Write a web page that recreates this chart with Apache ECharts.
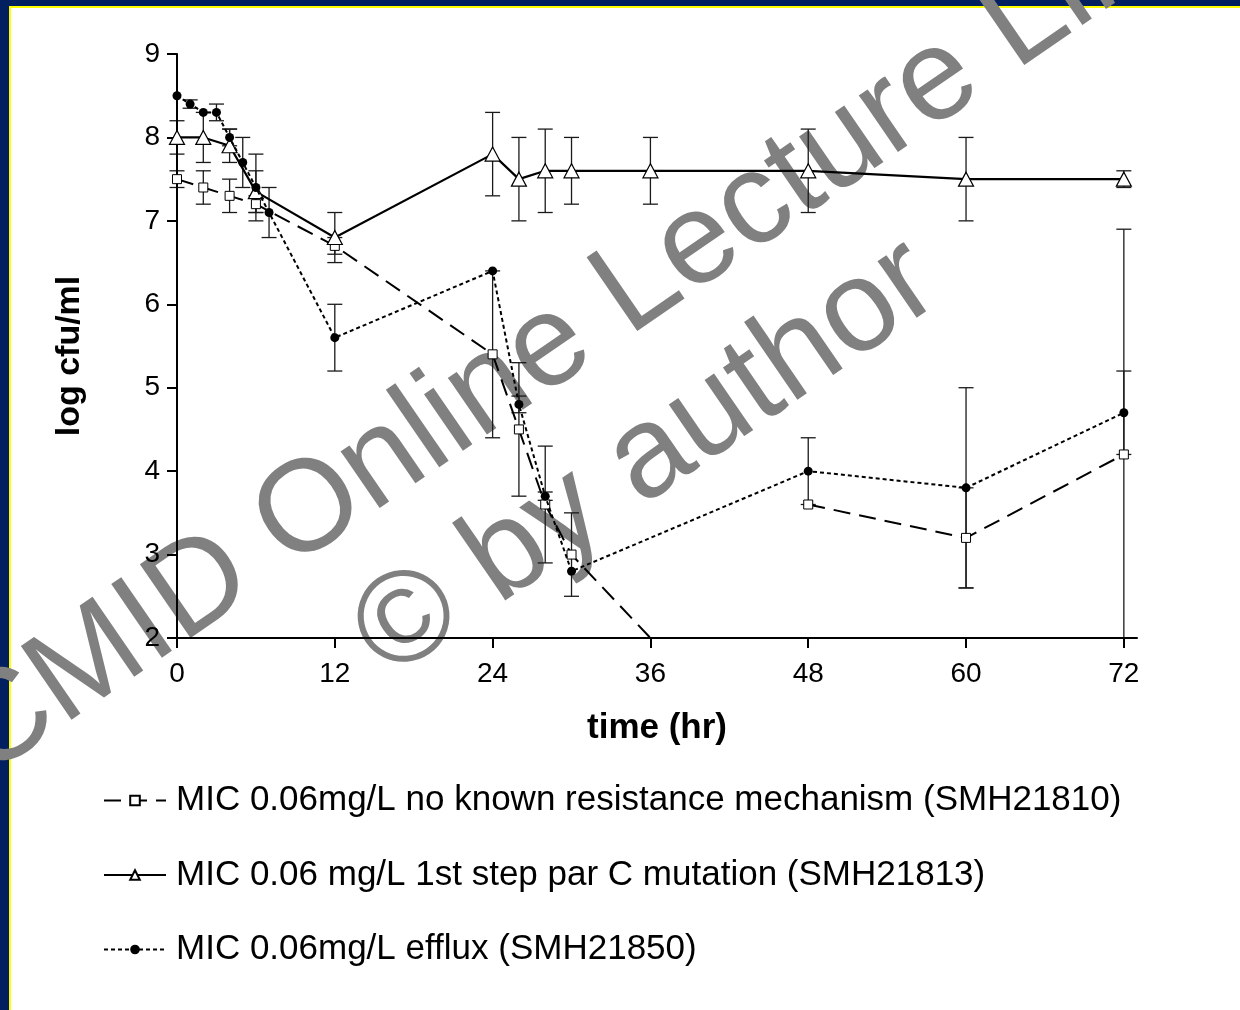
<!DOCTYPE html>
<html>
<head>
<meta charset="utf-8">
<script src="https://cdn.jsdelivr.net/npm/echarts@6/dist/echarts.min.js"></script>
<style>
  html, body { margin: 0; padding: 0; background: #fff; }
  #main { width: 1240px; height: 1010px; }
</style>
</head>
<body>
<div id="main"></div>
<script>
var chart = echarts.init(document.getElementById('main'));

// time points (hr) and log cfu/ml with error (+/-) for each strain
var namesLegend = [
    'MIC 0.06mg/L no known resistance mechanism (SMH21810)',
    'MIC 0.06 mg/L 1st step par C mutation (SMH21813)',
    'MIC 0.06mg/L efflux (SMH21850)'
];

var timeA = [0, 2, 4, 6, 12, 24, 26, 28, 30, 36, 48, 60, 72];
var valA  = [7.5, 7.4, 7.3, 7.2, 6.7, 5.4, 4.5, 3.6, 3.0, 2.0, 3.6, 3.2, 4.2];
var errA  = [0.1, 0.2, 0.2, 0.1, 0.1, 1.0, 0.8, 0.7, 0.5, 0, 0, 0.6, 2.7];

var timeB = [0, 2, 4, 6, 12, 24, 26, 28, 30, 36, 48, 60, 72];
var valB  = [8.0, 8.0, 7.9, 7.35, 6.8, 7.8, 7.5, 7.6, 7.6, 7.6, 7.6, 7.5, 7.5];
var errB  = [0.2, 0.3, 0.2, 0.25, 0.3, 0.5, 0.5, 0.5, 0.4, 0.4, 0.5, 0.5, 0.1];

var timeC = [0, 1, 2, 3, 4, 5, 6, 7, 12, 24, 26, 28, 30, 48, 60, 72];
var valC  = [8.5, 8.4, 8.3, 8.3, 8.0, 7.7, 7.4, 7.1, 5.6, 6.4, 4.8, 3.7, 2.8, 4.0, 3.8, 4.7];
var errC  = [0, 0.05, 0, 0.1, 0.1, 0.3, 0.4, 0.3, 0.4, 0, 0.1, 0.05, 0, 0.4, 1.2, 0.5];

var xTicks = [0, 12, 24, 36, 48, 60, 72];
var yMin = 2, yMax = 9;

var FONT = 'Liberation Sans';

function pairs(t, v) {
    return t.map(function (x, i) { return [x, v[i]]; });
}
function bars(t, v, e) {
    var out = [];
    t.forEach(function (x, i) {
        if (e[i] > 0) out.push([x, v[i] - e[i], v[i] + e[i]]);
    });
    return out;
}

// strain A: line stops at the axis at 36 h, resumes at 48 h
var dataA = pairs(timeA, valA);
var idx36 = timeA.indexOf(36);
dataA[idx36] = { value: dataA[idx36], symbol: 'none' };
dataA.splice(idx36 + 1, 0, [36, '-']);

function errRender(params, api) {
    var x = api.value(0);
    var lo = api.value(1), hi = api.value(2);
    var clipped = lo < yMin;
    if (clipped) lo = yMin;
    var top = api.coord([x, hi]);
    var bot = api.coord([x, lo]);
    var w = 7.5;
    var st = { stroke: '#1a1a1a', lineWidth: 1.3 };
    var kids = [
        { type: 'line', shape: { x1: top[0], y1: top[1], x2: bot[0], y2: bot[1] }, style: st },
        { type: 'line', shape: { x1: top[0] - w, y1: top[1], x2: top[0] + w, y2: top[1] }, style: st }
    ];
    if (!clipped) {
        kids.push({ type: 'line', shape: { x1: bot[0] - w, y1: bot[1], x2: bot[0] + w, y2: bot[1] }, style: st });
    }
    return { type: 'group', children: kids };
}

var navy = '#021F5F';
var wmStyle = { fill: '#808080', font: '130px "Liberation Sans"', textVerticalAlign: 'bottom' };
var ang = 34.5 * Math.PI / 180;

option = {
    backgroundColor: '#ffffff',
    animation: false,
    textStyle: { fontFamily: FONT },
    graphic: [
        { type: 'rect', z: -5, shape: { x: 0, y: 0, width: 1240, height: 6 }, style: { fill: navy } },
        { type: 'rect', z: -5, shape: { x: 0, y: 0, width: 9, height: 1010 }, style: { fill: navy } },
        { type: 'rect', z: -5, shape: { x: 9, y: 6, width: 1231, height: 2 }, style: { fill: '#ffff00' } },
        { type: 'rect', z: -5, shape: { x: 9, y: 6, width: 2, height: 1004 }, style: { fill: '#ffff00' } },
        { type: 'text', z: -1, x: 2, y: 803, rotation: ang,
          style: Object.assign({ text: 'CMID Online Lecture Library' }, wmStyle) },
        { type: 'text', z: -1, x: 406, y: 704, rotation: ang,
          style: Object.assign({ text: '\u00A9 by author' }, wmStyle) }
    ],
    legend: {
        orient: 'vertical',
        left: 98,
        top: 778,
        itemWidth: 62,
        itemHeight: 12,
        itemGap: 39.5,
        data: namesLegend,
        textStyle: { fontSize: 35, color: '#000', fontFamily: FONT, padding: [0, 0, 0, 5] }
    },
    grid: { left: 177, top: 54, right: 103, bottom: 372, containLabel: false },
    xAxis: {
        type: 'value',
        min: 0,
        max: 73,
        interval: 12,
        z: 3,
        name: 'time (hr)',
        nameLocation: 'middle',
        nameGap: 73,
        nameTextStyle: { fontSize: 35, fontWeight: 'bold', color: '#000', fontFamily: FONT },
        axisLine: { lineStyle: { color: '#000', width: 2 } },
        axisTick: { length: 10, lineStyle: { width: 2, color: '#000' }, customValues: xTicks },
        axisLabel: { fontSize: 28, color: '#000', margin: 22, fontFamily: FONT, customValues: xTicks },
        splitLine: { show: false }
    },
    yAxis: {
        type: 'value',
        min: yMin,
        max: yMax,
        interval: 1,
        z: 3,
        name: 'log cfu/ml',
        nameLocation: 'middle',
        nameGap: 90,
        nameTextStyle: { fontSize: 34, fontWeight: 'bold', color: '#000', fontFamily: FONT, padding: [0, 20, 0, 0] },
        axisLine: { show: true, lineStyle: { color: '#000', width: 2 } },
        axisTick: { show: true, length: 10, lineStyle: { width: 2, color: '#000' } },
        axisLabel: { fontSize: 28, color: '#000', margin: 17, fontFamily: FONT },
        splitLine: { show: false }
    },
    series: [
        { type: 'custom', z: 3, renderItem: errRender, data: bars(timeA, valA, errA), silent: true },
        { type: 'custom', z: 3, renderItem: errRender, data: bars(timeB, valB, errB), silent: true },
        { type: 'custom', z: 3, renderItem: errRender, data: bars(timeC, valC, errC), silent: true },
        {
            name: namesLegend[0], type: 'line', z: 5, data: dataA,
            symbol: 'rect', symbolSize: 9,
            itemStyle: { color: '#fff', borderColor: '#000', borderWidth: 1 },
            lineStyle: { color: '#000', width: 2, type: [17, 9] }
        },
        {
            name: namesLegend[1], type: 'line', z: 5, data: pairs(timeB, valB),
            symbol: 'triangle', symbolSize: [15, 14],
            itemStyle: { color: '#fff', borderColor: '#000', borderWidth: 1.2 },
            lineStyle: { color: '#000', width: 2.2 }
        },
        {
            name: namesLegend[2], type: 'line', z: 6, data: pairs(timeC, valC),
            symbol: 'circle', symbolSize: 9,
            itemStyle: { color: '#000' },
            lineStyle: { color: '#000', width: 2, type: [4, 3] }
        }
    ]
};

chart.setOption(option);
</script>
</body>
</html>
